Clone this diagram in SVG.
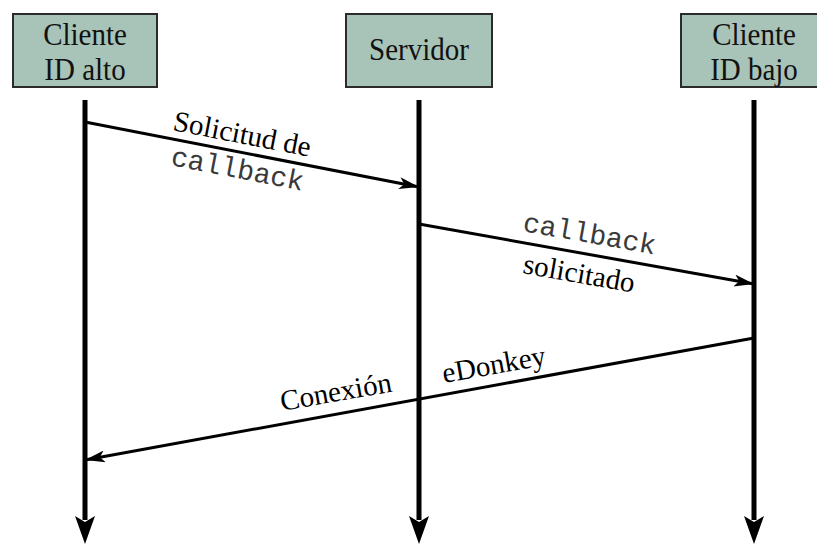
<svg xmlns="http://www.w3.org/2000/svg" width="817" height="544" viewBox="0 0 817 544">
  <style>
    .box { fill: #a8c3b7; stroke: #2b2b2b; stroke-width: 2; }
    .name { font-family: "Times New Roman", "Liberation Serif", Tinos, serif; font-size: 29px; fill: #111; text-anchor: middle; }
    .life { stroke: #000; stroke-width: 5; fill: none; }
    .msg { stroke: #000; stroke-width: 3; fill: none; }
    .lbl { font-family: "Times New Roman", "Liberation Serif", Tinos, serif; font-size: 29px; fill: #000; }
    .mono { font-family: "Courier New", "Liberation Mono", Cousine, monospace; font-size: 28px; fill: #3a3a3a; }
  </style>
  <defs>
    <marker id="head" viewBox="0 0 20 12" refX="20" refY="6" markerWidth="20" markerHeight="12" markerUnits="userSpaceOnUse" orient="auto">
      <path d="M0,0 L20,6 L0,12 L5,6 Z" fill="#000"/>
    </marker>
  </defs>

  <g id="cliente-alto">
    <rect class="box" x="13" y="14" width="144" height="73"/>
    <text class="name" transform="translate(85,45) scale(1,1.12)">Cliente</text>
    <text class="name" transform="translate(85,80) scale(1,1.12)">ID alto</text>
  </g>
  <g id="servidor">
    <rect class="box" x="346" y="14" width="146" height="73"/>
    <text class="name" transform="translate(419,60) scale(1,1.12)">Servidor</text>
  </g>
  <g id="cliente-bajo">
    <rect class="box" x="681" y="14" width="146" height="73"/>
    <text class="name" transform="translate(754,45) scale(1,1.12)">Cliente</text>
    <text class="name" transform="translate(754,80) scale(1,1.12)">ID bajo</text>
  </g>

  <g id="connectors">
    <!-- lifelines with barbed heads -->
    <line class="life" x1="85" y1="100" x2="85" y2="520"/>
    <path d="M75,516 L85,522 L95,516 L85,544 Z" fill="#000"/>
    <line class="life" x1="419" y1="100" x2="419" y2="520"/>
    <path d="M409,516 L419,522 L429,516 L419,544 Z" fill="#000"/>
    <line class="life" x1="754" y1="100" x2="754" y2="520"/>
    <path d="M744,516 L754,522 L764,516 L754,544 Z" fill="#000"/>

    <!-- messages -->
    <line class="msg" x1="85" y1="122" x2="419" y2="187" marker-end="url(#head)"/>
    <line class="msg" x1="419" y1="224" x2="754" y2="284" marker-end="url(#head)"/>
    <line class="msg" x1="754" y1="338" x2="85" y2="460" marker-end="url(#head)"/>
  </g>

  <g id="labels">
    <text class="lbl" transform="translate(172,130) rotate(11)">Solicitud de</text>
    <text class="mono" transform="translate(170,165) rotate(11)">callback</text>
    <text class="mono" transform="translate(522,231) rotate(10)">callback</text>
    <text class="lbl" transform="translate(522,273) rotate(10)">solicitado</text>
    <text class="lbl" transform="translate(282,411) rotate(-10)">Conexión</text>
    <text class="lbl" transform="translate(444,383) rotate(-10)">eDonkey</text>
  </g>
</svg>
